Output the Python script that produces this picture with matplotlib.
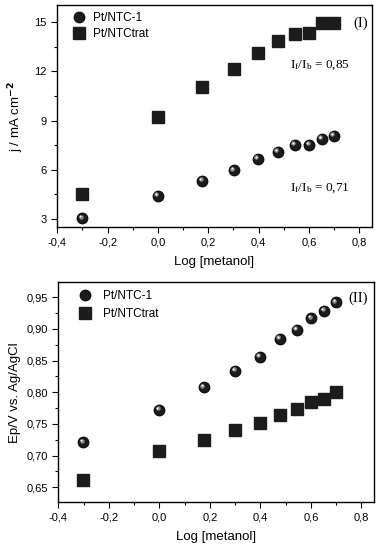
import numpy as np
import matplotlib.pyplot as plt
from matplotlib.ticker import MultipleLocator, FuncFormatter
from matplotlib.transforms import offset_copy

plt.rcParams['font.family'] = ['Liberation Sans', 'DejaVu Sans']

# data
log_met = [-0.301, 0.0, 0.176, 0.301, 0.398, 0.477, 0.544, 0.602, 0.653, 0.699]
j_ntc1 = [3.04, 4.42, 5.32, 5.97, 6.66, 7.09, 7.52, 7.54, 7.88, 8.06]
j_trat = [4.51, 9.24, 11.05, 12.15, 13.10, 13.84, 14.27, 14.37, 14.94, 14.94]
ep_ntc1 = [0.721, 0.772, 0.808, 0.834, 0.856, 0.884, 0.899, 0.917, 0.929, 0.942]
ep_trat = [0.661, 0.707, 0.724, 0.740, 0.751, 0.764, 0.774, 0.784, 0.790, 0.800]

fig = plt.figure(figsize=(3.8, 5.53), dpi=100)
ax1 = fig.add_axes([57.3/380, 1-227.3/553, 314.4/380, 222.6/553])
ax2 = fig.add_axes([58.3/380, 1-502.3/553, 315.7/380, 220/553])

comma = FuncFormatter(lambda v, p: ('%.1f' % v).replace('.', ','))

def sphere(ax, x, y, label):
    # dark ball with a small highlight to mimic the shaded spheres
    ax.plot(x, y, 'o', ms=7.5, color='#1c1c1c', mec='#111111', label=label, zorder=3)
    tr = offset_copy(ax.transData, fig=fig, x=-1.2, y=1.2, units='points')
    ax.plot(x, y, 'o', ms=3.2, color='#8a8a8a', mec='none', transform=tr, zorder=4)
    tr2 = offset_copy(ax.transData, fig=fig, x=-1.4, y=1.4, units='points')
    ax.plot(x, y, 'o', ms=1.4, color='white', mec='none', transform=tr2, zorder=5)

def style(ax):
    ax.set_xlim(-0.4, 0.85)
    ax.xaxis.set_major_locator(MultipleLocator(0.2))
    ax.xaxis.set_minor_locator(MultipleLocator(0.1))
    ax.xaxis.set_major_formatter(comma)
    ax.tick_params(which='both', direction='out', top=False, right=False, labelsize=8)
    ax.tick_params(which='major', length=4, width=0.8)
    ax.tick_params(which='minor', length=2.5, width=0.8)
    for s in ax.spines.values():
        s.set_linewidth(1.0)
    ax.set_xlabel('Log [metanol]', fontsize=9.5, labelpad=6)

# panel I
sphere(ax1, log_met, j_ntc1, 'Pt/NTC-1')
ax1.plot(log_met, j_trat, 's', ms=8, color='#1c1c1c', label='Pt/NTCtrat', zorder=3)
ax1.set_ylim(2.49, 16.07)
ax1.yaxis.set_major_locator(MultipleLocator(3))
ax1.yaxis.set_minor_locator(MultipleLocator(1.5))
ax1.yaxis.set_major_formatter(FuncFormatter(lambda v, p: '%d' % v))
style(ax1)
ax1.set_ylabel('j / mA cm$^{\\mathbf{-2}}$', fontsize=9.5, labelpad=6)
ax1.legend(loc='upper left', bbox_to_anchor=(0.01, 1.0), frameon=False, fontsize=8.5,
           handletextpad=0.15, borderaxespad=0.2, labelspacing=0.35)
ax1.text(0.987, 0.947, '(I)', transform=ax1.transAxes, ha='right', va='top',
         family='Liberation Serif', fontsize=10.5)
ax1.text(0.525, 12.4, '$\\mathregular{I_f/I_b}$ = 0,85', family='Liberation Serif', fontsize=9.5, va='center')
ax1.text(0.525, 4.9, '$\\mathregular{I_f/I_b}$ = 0,71', family='Liberation Serif', fontsize=9.5, va='center')

# panel II
sphere(ax2, log_met, ep_ntc1, 'Pt/NTC-1')
ax2.plot(log_met, ep_trat, 's', ms=8, color='#1c1c1c', label='Pt/NTCtrat', zorder=3)
ax2.set_ylim(0.6263, 0.9737)
ax2.yaxis.set_major_locator(MultipleLocator(0.05))
ax2.yaxis.set_minor_locator(MultipleLocator(0.025))
ax2.yaxis.set_major_formatter(FuncFormatter(lambda v, p: ('%.2f' % v).replace('.', ',')))
style(ax2)
ax2.set_ylabel('Ep/V vs. Ag/AgCl', fontsize=9.5, labelpad=4)
ax2.legend(loc='upper left', bbox_to_anchor=(0.025, 0.995), frameon=False, fontsize=8.5,
           handletextpad=0.5, borderaxespad=0.2, labelspacing=0.45)
ax2.text(0.982, 0.957, '(II)', transform=ax2.transAxes, ha='right', va='top',
         family='Liberation Serif', fontsize=10.5)

fig.savefig('out.png', dpi=100)
